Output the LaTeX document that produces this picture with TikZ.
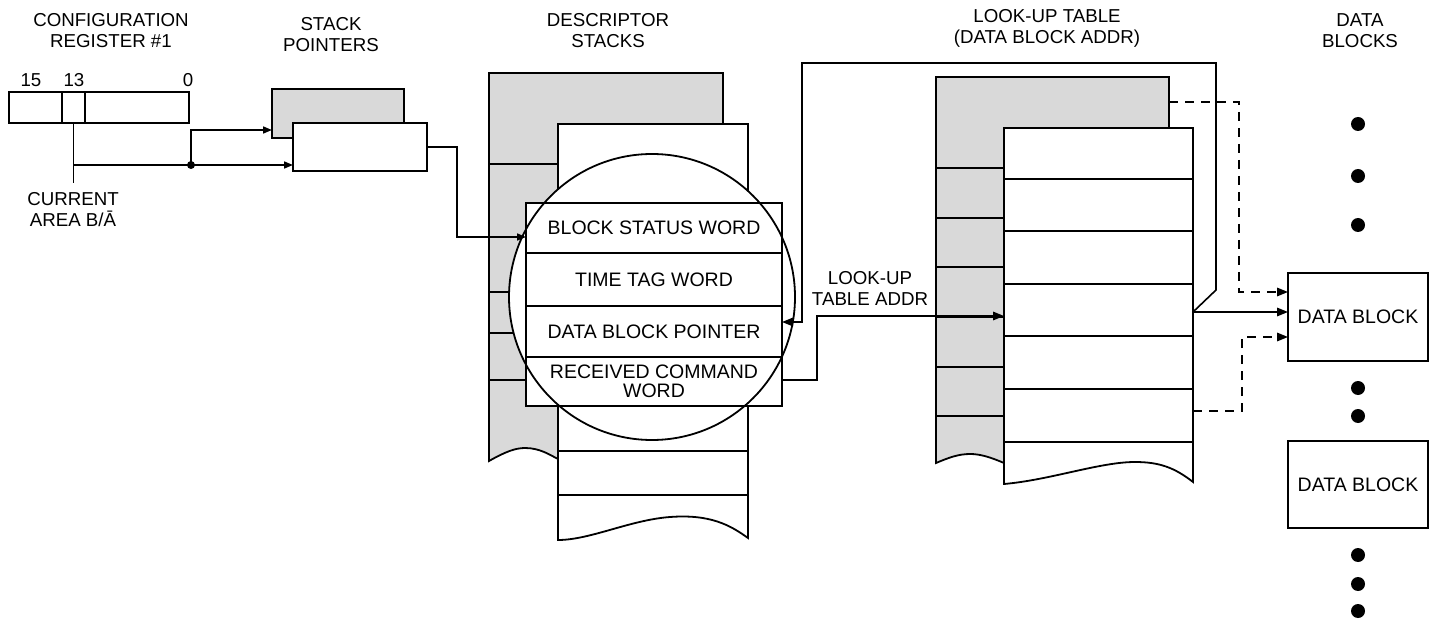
\documentclass[tikz,border=0pt]{standalone}
\usepackage{fontspec}
\setmainfont{Liberation Sans}
\usetikzlibrary{arrows.meta}
\definecolor{stackgray}{RGB}{217,217,217}
\begin{document}
\begin{tikzpicture}[x=1pt,y=-1pt,
  lw/.style={line width=1.8pt},
  box/.style={draw,line width=1.8pt,fill=white,inner sep=0pt,outer sep=0pt,rectangle,font=\fontsize{19.5}{22}\selectfont,align=center},
  graybox/.style={box,fill=stackgray},
  lbl/.style={font=\fontsize{18.7}{21}\selectfont,align=center,inner sep=0pt},
  arr/.style={line width=1.6pt,-{Triangle[length=11pt,width=8.5pt]}},
  sarr/.style={line width=1.6pt,-{Triangle[length=9pt,width=7pt]}},
  conn/.style={line width=1.6pt},
  dsh/.style={line width=1.6pt,dash pattern=on 9pt off 7pt},
  dsharr/.style={dsh,-{Triangle[length=11pt,width=8.5pt]}},
  bigdot/.style={circle,fill=black,inner sep=0pt,minimum size=14pt},
  smalldot/.style={circle,fill=black,inner sep=0pt,minimum size=8pt}
]
\useasboundingbox (0,0) rectangle (1435,620);

% ---------- headings
\node[lbl] (hcfg) at (111,31) {CONFIGURATION\\REGISTER \#1};
\node[lbl] (hsp) at (331,35) {STACK\\POINTERS};
\node[lbl] (hds) at (608,31) {DESCRIPTOR\\STACKS};
\node[lbl] (hlt) at (1047,28) {LOOK-UP TABLE\\(DATA BLOCK ADDR)};
\node[lbl] (hdb) at (1360,31) {DATA\\BLOCKS};

% ---------- configuration register
\node[box,minimum width=180,minimum height=31] (cfg) at (99,107.5) {};
\draw[conn] (62,92) -- (62,123);
\draw[conn] (85,92) -- (85,123);
\node[lbl] (b15) at (31,80) {15};
\node[lbl] (b13) at (74,80) {13};
\node[lbl] (b0) at (188,80) {0};
\coordinate (bit13) at (73.5,123);
\coordinate (bitend) at (73.5,183);
\coordinate (bitbr) at (73.5,165);
\node[lbl] (cur) at (73,210) {CURRENT\\AREA B/Ā};

% ---------- stack pointers
\node[graybox,minimum width=132,minimum height=49] (spb) at (338,113.5) {};
\node[box,minimum width=134,minimum height=48] (spf) at (360,147) {};
\node[smalldot] (jn) at (191,165) {};
\draw[conn] (bit13) -- (bitend);
\draw[sarr] (bitbr) -- (spf.west |- bitbr);
\draw[sarr] (jn.center) |- (spb.west |- 0,130);

% ---------- descriptor stacks
\draw[lw,fill=stackgray] (489,73) -- (723,73) -- (723,140) -- (600,140) -- (600,459) -- (558,459)
   .. controls (550,455) and (540,448) .. (525,448) .. controls (515,448) and (505,452) .. (489,461) -- cycle;
\foreach \yy in {164,292,333,380} \draw[conn] (489,\yy) -- (558,\yy);
\draw[lw,fill=white] (558,124) -- (748,124) -- (748,538)
   .. controls (730,525) and (710,514) .. (670,517) .. controls (630,520) and (590,540) .. (558,540) -- cycle;
\foreach \yy in {451,495} \draw[conn] (558,\yy) -- (748,\yy);
\fill[white] (652,297) circle (143);
\node[box,minimum width=256,minimum height=50] (bsw) at (654,228) {BLOCK STATUS WORD};
\node[box,minimum width=256,minimum height=53] (ttw) at (654,279.5) {TIME TAG WORD};
\node[box,minimum width=256,minimum height=51] (dbp) at (654,331.5) {DATA BLOCK POINTER};
\node[box,minimum width=256,minimum height=49] (rcw) at (654,381.5) {RECEIVED COMMAND\\[-3pt]WORD};
\draw[lw] (652,297) circle (143);

\coordinate (spout) at (457,147);
\draw[sarr] (spf.east) -- (spout) |- (bsw.west |- 0,237);

% ---------- look-up table
\draw[lw,fill=stackgray] (936,77) -- (1169,77) -- (1169,140) -- (1050,140) -- (1050,463) -- (1004,463)
   .. controls (990,457) and (980,454) .. (970,454) .. controls (958,454) and (948,458) .. (936,463) -- cycle;
\foreach \yy in {168,218,267,317,367,416} \draw[conn] (936,\yy) -- (1004,\yy);
\draw[lw,fill=white] (1004,128) -- (1193,128) -- (1193,482)
   .. controls (1175,468) and (1160,462) .. (1135,462) .. controls (1100,462) and (1050,480) .. (1004,484) -- cycle;
\foreach \yy in {179,231,284,336,389,442} \draw[conn] (1004,\yy) -- (1193,\yy);

\node[lbl] (ltaddr) at (870,288) {LOOK-UP\\TABLE ADDR};
\coordinate (rcout) at (817,380);
\coordinate (ltin) at (1004,316);
\draw[arr] (rcw.east |- rcout) -- (rcout) |- (ltin);

% loop back
\coordinate (ltout) at (1193,312);
\coordinate (lpa) at (1216,290);
\coordinate (lpb) at (1216,63);
\coordinate (lpc) at (802,63);
\coordinate (lpd) at (802,322);
\draw[arr] (ltout) -- (lpa) -- (lpb) -- (lpc) -- (lpd) -- (dbp.east |- lpd);

% ---------- data blocks
\node[box,minimum width=140,minimum height=88] (db1) at (1358,317) {DATA BLOCK};
\node[box,minimum width=140,minimum height=87] (db2) at (1358,484.5) {DATA BLOCK};
\draw[arr] (ltout) -- (db1.west |- ltout);
\coordinate (dtop) at (1169,102);
\coordinate (dtopc) at (1239,102);
\draw[dsharr] (dtop) -- (dtopc) |- (db1.west |- 0,292);
\coordinate (dbot) at (1193,411);
\coordinate (dbotc) at (1242,411);
\draw[dsharr] (dbot) -- (dbotc) |- (db1.west |- 0,337);

\foreach \yy/\nm in {124/d1,176/d2,225/d3,388/d4,416/d5,555/d6,584/d7,611/d8}
  \node[bigdot] (\nm) at (1358,\yy) {};
\end{tikzpicture}
\end{document}
